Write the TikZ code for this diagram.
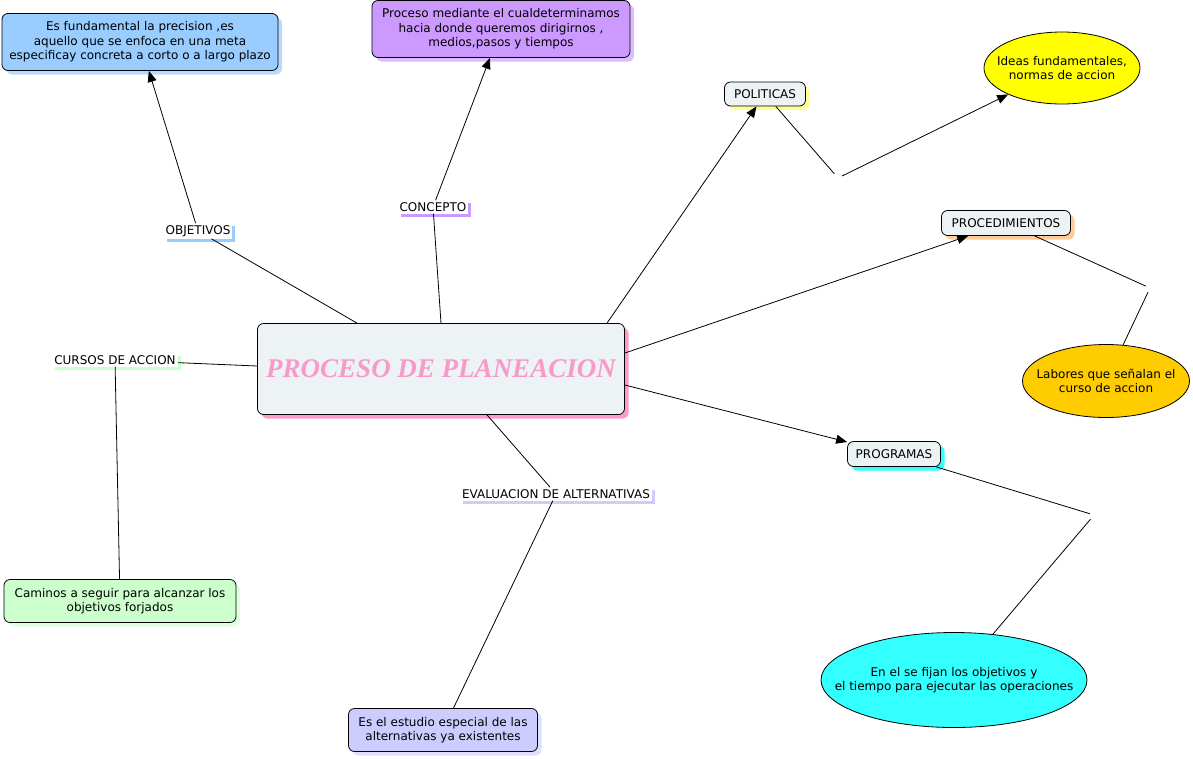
\documentclass[tikz,border=0pt]{standalone}
\usepackage{fontspec}
\usepackage{tikz}
\usetikzlibrary{positioning, arrows.meta, shapes.geometric, shadows}
\newfontfamily\cmapfont{DejaVu Sans}
\newfontfamily\titlefont{Liberation Serif}

\definecolor{boxgray}{HTML}{EDF2F5}
\definecolor{titlepink}{HTML}{F79AC9}
\definecolor{shpink}{HTML}{FF99CC}
\definecolor{skyblue}{HTML}{99CCFF}
\definecolor{shsky}{HTML}{B8DAFF}
\definecolor{lilac}{HTML}{CC99FF}
\definecolor{shlilac}{HTML}{DCBDFF}
\definecolor{lemon}{HTML}{FFFF00}
\definecolor{shlemon}{HTML}{FFFF99}
\definecolor{amber}{HTML}{FFCC00}
\definecolor{shpeach}{HTML}{FFCC99}
\definecolor{aqua}{HTML}{33FFFF}
\definecolor{mint}{HTML}{CCFFCC}
\definecolor{shmint}{HTML}{E0FFE0}
\definecolor{lavender}{HTML}{CCCCFF}
\definecolor{shlavender}{HTML}{DEDEFF}

\tikzset{
  cmaptext/.style={font=\cmapfont\fontsize{12}{14.5}\selectfont},
  concept/.style={cmaptext, draw, line width=0.8pt, rounded corners=6pt, fill=boxgray,
    align=center, inner sep=3pt},
  shade/.style={drop shadow={fill=#1, opacity=1, shadow xshift=4pt, shadow yshift=-4pt}},
  oval/.style={draw, line width=0.8pt, ellipse, inner sep=0pt},
  ovaltext/.style={cmaptext, align=center, inner sep=0pt},
  linkword/.style={cmaptext, fill=white, inner sep=2pt,
    drop shadow={fill=#1, opacity=1, shadow xshift=3pt, shadow yshift=-3pt}},
  blank/.style={inner sep=4pt},
  link/.style={line width=0.8pt},
  arrowlink/.style={link, -{Triangle[length=11pt,width=9pt]}}
}

\begin{document}
\begin{tikzpicture}[x=1pt, y=-1pt]
\useasboundingbox (0,0) rectangle (1193,758);

% Main concept
\node[concept, shade=shpink, minimum width=367pt, minimum height=91pt] (proc) at (441,369)
  {\titlefont\bfseries\itshape\fontsize{27}{30}\selectfont\color{titlepink}\raisebox{-2pt}{PROCESO DE PLANEACION}};

% Left and top branches
\node[linkword=skyblue] (obj) at (198,231) {OBJETIVOS};
\node[concept, fill=skyblue, shade=shsky, minimum width=276pt, minimum height=57pt] (objdesc) at (140,42)
  {Es fundamental la precision ,es\\aquello que se enfoca en una meta\\especificay concreta a corto o a largo plazo};
\node[linkword=lilac] (conc) at (433,207) {CONCEPTO};
\node[concept, fill=lilac, shade=shlilac, minimum width=258pt, minimum height=57pt] (concdesc) at (501,29)
  {Proceso mediante el cualdeterminamos\\hacia donde queremos dirigirnos ,\\medios,pasos y tiempos};
\node[linkword=mint] (curs) at (115,360) {CURSOS DE ACCION};
\node[concept, fill=mint, shade=shmint, minimum width=232pt, minimum height=43pt] (cursdesc) at (120,601)
  {Caminos a seguir para alcanzar los\\objetivos forjados};
\node[linkword=lavender] (eval) at (556,494) {EVALUACION DE ALTERNATIVAS};
\node[concept, fill=lavender, shade=shlavender, minimum width=189pt, minimum height=43pt] (evaldesc) at (443,730)
  {Es el estudio especial de las\\alternativas ya existentes};

% Right branches
\node[concept, shade=shlemon, minimum width=81pt, minimum height=24pt] (pol) at (765,94) {POLITICAS};
\node[blank] (polx) at (838,178) {};
\node[oval, fill=lemon, minimum width=156pt, minimum height=72pt] (poldesc) at (1062,68) {};
\node[ovaltext] (poldesctext) at (poldesc) {Ideas fundamentales,\\normas de accion};
\node[concept, shade=shpeach, minimum width=129pt, minimum height=25pt] (procd) at (1006,223) {PROCEDIMIENTOS};
\node[blank] (procdx) at (1150,288) {};
\node[oval, fill=amber, minimum width=167pt, minimum height=73pt] (procddesc) at (1106,381) {};
\node[ovaltext] (procddesctext) at (procddesc) {Labores que señalan el\\curso de accion};
\node[concept, shade=aqua, minimum width=93pt, minimum height=25pt] (prog) at (894,454) {PROGRAMAS};
\node[blank] (progx) at (1094,515) {};
\node[oval, fill=aqua, minimum width=266pt, minimum height=95pt] (progdesc) at (954,680) {};
\node[ovaltext] (progdesctext) at (progdesc) {En el se fijan los objetivos y\\el tiempo para ejecutar las operaciones};

% Connectors
\draw[link] ([xshift=-84pt]proc.north) -- (obj);
\draw[arrowlink] (obj) -- (objdesc);
\draw[link] (proc.north) -- (conc);
\draw[arrowlink] (conc) -- (concdesc);
\draw[link] ([yshift=3pt]proc.west) -- (curs);
\draw[link] (curs) -- (cursdesc);
\draw[link] ([xshift=46pt]proc.south) -- (eval);
\draw[link] (eval) -- (evaldesc);
\draw[arrowlink] ([xshift=166pt]proc.north) -- (pol);
\draw[link] (pol) -- (polx);
\draw[arrowlink] (polx) -- (poldesc);
\draw[arrowlink] ([yshift=16pt]proc.east) -- (procd);
\draw[link] (procd) -- (procdx);
\draw[link] (procdx) -- (procddesc);
\draw[arrowlink] ([yshift=-16pt]proc.east) -- (prog);
\draw[link] (prog) -- (progx);
\draw[link] (progx) -- (progdesc);
\end{tikzpicture}
\end{document}
